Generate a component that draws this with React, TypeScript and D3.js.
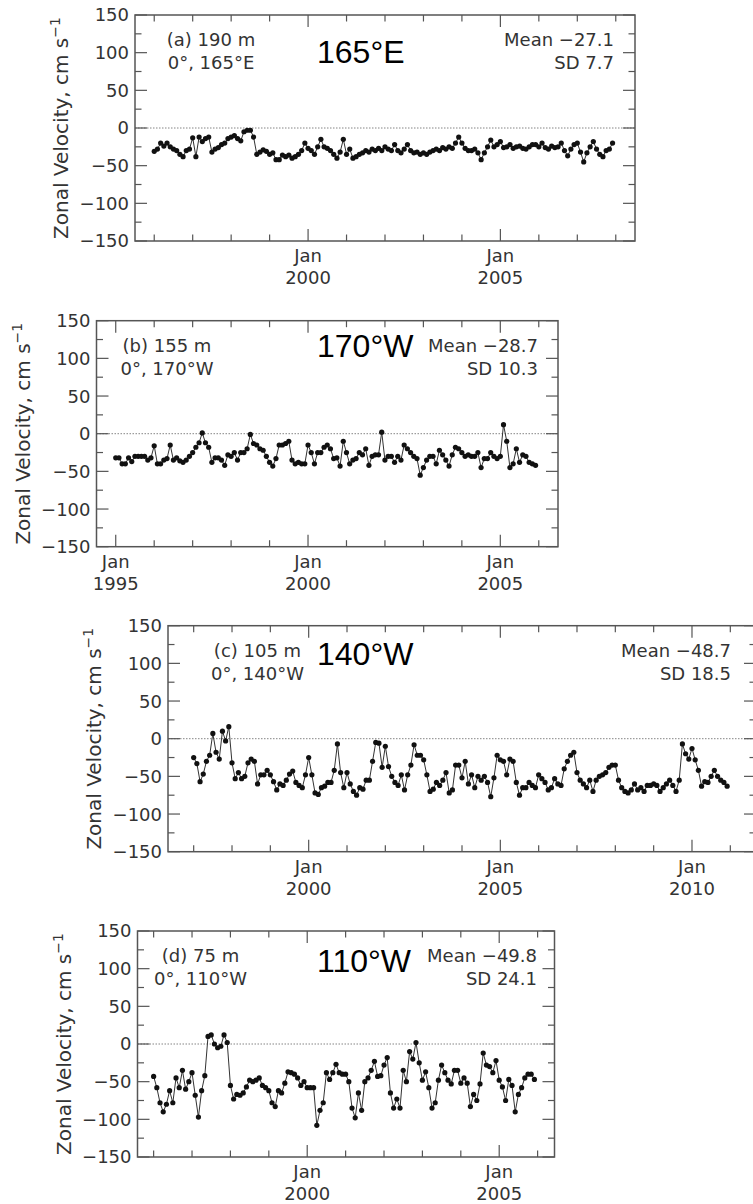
import * as d3 from "d3";

// Monthly mean zonal velocity (cm/s), one value per month starting in January
const velocity165E = [
  -31, -28, -20, -24, -20, -25, -28, -30, -35, -38, -30, -28,
  -13, -38, -12, -18, -14, -12, -32, -28, -26, -22, -20, -14,
  -12, -10, -14, -17, -5, -3, -3, -12, -35, -32, -29, -31,
  -35, -33, -42, -42, -36, -38, -36, -40, -38, -35, -30, -20,
  -27, -30, -35, -25, -15, -25, -27, -30, -35, -40, -32, -15,
  -35, -28, -40, -38, -35, -33, -30, -32, -28, -30, -27, -30,
  -25, -28, -30, -22, -30, -33, -28, -22, -30, -33, -32, -35,
  -33, -35, -32, -30, -28, -30, -26, -28, -25, -27, -20, -12,
  -20, -27, -30, -30, -28, -33, -42, -33, -25, -16, -25, -22,
  -18, -26, -25, -22, -27, -25, -24, -27, -28, -25, -22, -22,
  -25, -20, -26, -28, -24, -26, -25, -20, -30, -37, -28, -22,
  -20, -32, -45, -33, -25, -18, -28, -35, -38, -30, -28, -20,
];

const velocity170W = [
  -32, -32, -40, -40, -32, -37, -30, -30, -30, -30, -35, -32,
  -16, -40, -40, -35, -33, -15, -35, -32, -36, -38, -35, -30,
  -25, -18, -12, 1, -12, -18, -38, -32, -32, -35, -42, -28,
  -30, -25, -35, -25, -25, -20, -1, -13, -15, -20, -22, -30,
  -38, -43, -33, -15, -15, -13, -10, -35, -40, -38, -40, -40,
  -15, -25, -40, -25, -25, -18, -15, -20, -33, -32, -43, -10,
  -25, -40, -35, -33, -25, -28, -20, -42, -30, -28, -28, 2,
  -35, -30, -30, -38, -30, -35, -15, -20, -25, -30, -33, -55,
  -45, -35, -30, -30, -40, -22, -28, -35, -43, -28, -18, -20,
  -25, -30, -28, -30, -30, -25, -45, -33, -33, -25, -30, -33,
  -30, 12, -10, -45, -40, -20, -38, -28, -30, -38, -40, -42,
];

const velocity140W = [
  -25, -33, -57, -47, -30, -22, 7, -18, -27, 10, -3, 16,
  -32, -53, -45, -53, -50, -32, -27, -30, -60, -48, -48, -42,
  -48, -57, -68, -60, -62, -55, -47, -43, -58, -62, -65, -48,
  -25, -48, -72, -74, -65, -63, -58, -58, -42, -7, -45, -65,
  -45, -60, -70, -75, -65, -67, -55, -55, -30, -5, -6, -38,
  -10, -37, -50, -58, -62, -48, -68, -48, -35, -8, -22, -22,
  -28, -48, -70, -67, -58, -62, -55, -45, -72, -68, -35, -35,
  -52, -30, -60, -48, -65, -50, -55, -50, -58, -77, -52, -22,
  -28, -30, -48, -27, -30, -58, -75, -65, -65, -58, -62, -65,
  -48, -53, -58, -68, -65, -53, -60, -62, -40, -30, -22, -18,
  -45, -55, -60, -65, -55, -70, -55, -50, -48, -45, -38, -35,
  -35, -55, -65, -70, -72, -68, -60, -68, -65, -70, -62, -62,
  -60, -62, -70, -65, -60, -55, -62, -70, -55, -7, -20, -27,
  -13, -28, -42, -63, -57, -58, -50, -42, -50, -55, -58, -63,
];

const velocity110W = [
  -43, -58, -78, -90, -80, -62, -78, -45, -58, -35, -60, -50,
  -38, -68, -97, -62, -42, 10, 12, 0, -5, -3, 12, 2,
  -55, -73, -67, -68, -65, -57, -48, -50, -48, -45, -55, -58,
  -62, -78, -83, -62, -65, -52, -37, -38, -40, -45, -55, -50,
  -58, -58, -58, -108, -88, -78, -38, -47, -38, -27, -38, -40,
  -40, -50, -85, -98, -65, -88, -50, -45, -35, -23, -43, -42,
  -28, -18, -65, -85, -73, -85, -35, -50, -10, -20, 2, -25,
  -48, -37, -58, -85, -78, -48, -28, -38, -48, -53, -35, -35,
  -52, -45, -52, -83, -67, -75, -53, -12, -28, -30, -38, -22,
  -48, -57, -75, -47, -55, -90, -67, -58, -45, -40, -40, -47,
];

const seriesValues = [velocity165E, velocity170W, velocity140W, velocity110W];
const seriesStart = [1996, 1995, 1997, 1996];
const depthLabels = ["(a) 190 m", "(b) 155 m", "(c) 105 m", "(d) 75 m"];
const siteLabels = ["0°, 165°E", "0°, 170°W", "0°, 140°W", "0°, 110°W"];
const lonLabels = ["165°E", "170°W", "140°W", "110°W"];
const meanLabels = ["Mean −27.1", "Mean −28.7", "Mean −48.7", "Mean −49.8"];
const sdLabels = ["SD 7.7", "SD 10.3", "SD 18.5", "SD 24.1"];
const yearDomains = [
  [1995.5, 2008.5],
  [1994.5, 2006.5],
  [1996.33, 2011.67],
  [1995.58, 2006.44],
];
const yTickValues = [-150, -100, -50, 0, 50, 100, 150];

// pixel layout of each panel
const layout = [
  { left: 135, right: 635, top: 15, noteX: 211, meanX: 614, lonY: 63 },
  { left: 96.5, right: 558, top: 320.7, noteX: 167, meanX: 538, lonY: 357 },
  { left: 168, right: 756, top: 625.7, noteX: 257.5, meanX: 731, lonY: 665 },
  { left: 137.5, right: 554.5, top: 931, noteX: 200.5, meanX: 537, lonY: 972 },
];
const PLOT_H = 226;
const FONT = "DejaVu Sans";
const TXT = "#333";
const AXIS = "#555";

const fmt = (v: number) => (v < 0 ? "\u2212" + Math.abs(v) : String(v));

function Panel({ i }: { i: number }) {
  const { left, right, top, noteX, meanX, lonY } = layout[i];
  const bottom = top + PLOT_H;
  const [x0, x1] = yearDomains[i];
  const x = d3.scaleLinear().domain([x0, x1]).range([left, right]);
  const y = d3.scaleLinear().domain([-150, 150]).range([bottom, top]);
  const pts = seriesValues[i].map((v, k) => ({ t: seriesStart[i] + k / 12, v }));
  const line = d3
    .line<{ t: number; v: number }>()
    .x((d) => x(d.t))
    .y((d) => y(d.v));
  const years = d3.range(Math.ceil(x0), Math.floor(x1) + 1);
  const yMinor = d3.range(-150, 151, 25);

  return (
    <g>
      {/* zero line */}
      <line x1={left} x2={right} y1={y(0)} y2={y(0)} stroke="#666" strokeWidth={0.8} strokeDasharray="1.5,1.5" />

      {/* x ticks, top and bottom */}
      {years.map((yr) => {
        const len = yr % 5 === 0 ? 12 : 6.5;
        return (
          <g key={yr} stroke={AXIS} strokeWidth={1.2}>
            <line x1={x(yr)} x2={x(yr)} y1={bottom} y2={bottom - len} />
            <line x1={x(yr)} x2={x(yr)} y1={top} y2={top + len} />
          </g>
        );
      })}
      {/* y ticks, left and right */}
      {yMinor.map((v) => {
        const len = v % 50 === 0 ? 12 : 6.5;
        return (
          <g key={v} stroke={AXIS} strokeWidth={1.2}>
            <line x1={left} x2={left + len} y1={y(v)} y2={y(v)} />
            <line x1={right} x2={right - len} y1={y(v)} y2={y(v)} />
          </g>
        );
      })}
      <rect x={left} y={top} width={right - left} height={PLOT_H} fill="none" stroke={AXIS} strokeWidth={1.5} />

      {/* y tick labels */}
      {yTickValues.map((v) => (
        <text key={v} x={left - 6} y={y(v)} dy="0.36em" textAnchor="end" fontFamily={FONT} fontSize={18} fill={TXT}>
          {fmt(v)}
        </text>
      ))}
      {/* x tick labels */}
      {years
        .filter((yr) => yr % 5 === 0)
        .map((yr) => (
          <g key={yr} fontFamily={FONT} fontSize={18} fill={TXT} textAnchor="middle">
            <text x={x(yr)} y={bottom + 21}>Jan</text>
            <text x={x(yr)} y={bottom + 43}>{yr}</text>
          </g>
        ))}

      {/* y axis title */}
      <text
        transform={`translate(${left - 67},${(top + bottom) / 2}) rotate(-90)`}
        textAnchor="middle"
        fontFamily={FONT}
        fontSize={20}
        fill={TXT}
      >
        Zonal Velocity, cm s<tspan dy={-8} fontSize={14}>−1</tspan>
      </text>

      {/* series */}
      <path d={line(pts) || ""} fill="none" stroke="#333" strokeWidth={1} />
      {pts.map((d, k) => (
        <circle key={k} cx={x(d.t)} cy={y(d.v)} r={2.6} fill="#111" />
      ))}

      {/* annotations */}
      <g fontFamily={FONT} fontSize={18} fill={TXT}>
        <text x={noteX} y={top + 31} textAnchor="middle">{depthLabels[i]}</text>
        <text x={noteX} y={top + 54} textAnchor="middle">{siteLabels[i]}</text>
        <text x={meanX} y={top + 31} textAnchor="end">{meanLabels[i]}</text>
        <text x={meanX} y={top + 54} textAnchor="end">{sdLabels[i]}</text>
      </g>
      <text x={317} y={lonY} fontFamily="Liberation Sans" fontSize={32} fill="#000">
        {lonLabels[i]}
      </text>
    </g>
  );
}

export default function App() {
  return (
    <svg
      width={753}
      height={1204}
      viewBox="0 0 753 1204"
      style={{ position: "absolute", left: 0, top: 0, background: "#fff" }}
    >
      <rect width={753} height={1204} fill="#fff" />
      {layout.map((_, i) => (
        <Panel key={i} i={i} />
      ))}
    </svg>
  );
}
